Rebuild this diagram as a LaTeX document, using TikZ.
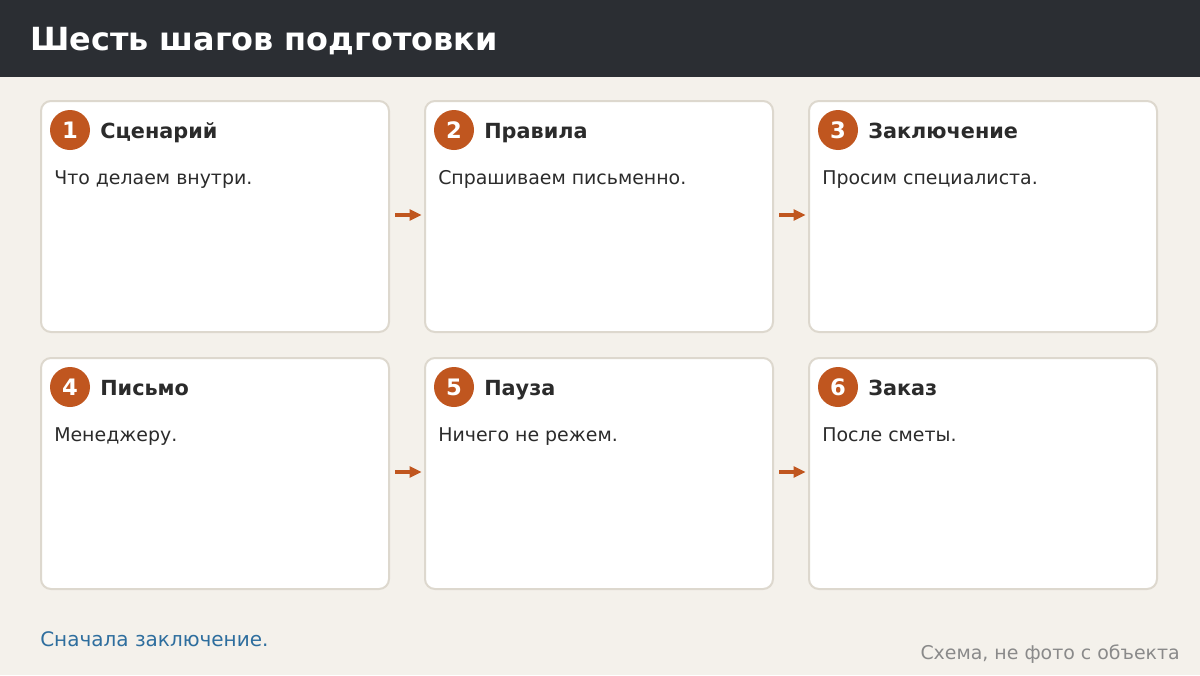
\documentclass[tikz,border=0pt]{standalone}
\usepackage{fontspec}
\setmainfont{DejaVu Sans}
\usetikzlibrary{arrows.meta}
\definecolor{bg}{HTML}{F4F1EB}
\definecolor{hdr}{HTML}{2B2E33}
\definecolor{cardborder}{HTML}{DDD8CE}
\definecolor{accent}{HTML}{C0561F}
\definecolor{ink}{HTML}{2B2B2B}
\definecolor{note}{HTML}{2E6E9E}
\definecolor{muted}{HTML}{8A8A8A}
\tikzset{
  card/.style={draw=cardborder, line width=1.5pt, fill=white, rounded corners=7.5pt},
  badge/.style={circle, fill=accent, minimum size=30pt, inner sep=0pt, text=white, font=\bfseries\fontsize{17pt}{18pt}\selectfont},
  ctitle/.style={anchor=base west, inner sep=0pt, text=ink, font=\bfseries\fontsize{15.6pt}{17pt}\selectfont},
  cbody/.style={anchor=base west, inner sep=0pt, text=ink, font=\fontsize{14.2pt}{16pt}\selectfont},
  flowarrow/.style={draw=accent, line width=2.3pt, -{Triangle[length=9pt,width=8pt]}},
}
\begin{document}
\begin{tikzpicture}[x=0.75pt,y=-0.75pt]
\fill[bg] (0,0) rectangle (1200,675);
\useasboundingbox (0,0) rectangle (1200,675);
\fill[hdr] (0,0) rectangle (1200,77);
\node[anchor=base west, inner sep=0pt, text=white, font=\bfseries\fontsize{23.9pt}{26pt}\selectfont] (title) at (30,50) {Шесть шагов подготовки};
% cards
\foreach \i/\x/\y/\t/\b in {1/41/101/Сценарий/Что делаем внутри.,2/425/101/Правила/Спрашиваем письменно.,3/809/101/Заключение/Просим специалиста.,4/41/358/Письмо/Менеджеру.,5/425/358/Пауза/Ничего не режем.,6/809/358/Заказ/После сметы.}{
  \draw[card] (\x,\y) rectangle ++(348,231);
  \coordinate (c\i w) at (\x,\y+114);
  \coordinate (c\i e) at (\x+348,\y+114);
  \node[badge] (n\i) at (\x+29,\y+29) {\i};
  \node[ctitle] (t\i) at (\x+59,\y+37) {\t};
  \node[cbody] (b\i) at (\x+13,\y+83) {\b};
}
\draw[flowarrow] ([xshift=4.5pt]c1e) -- ([xshift=-2.5pt]c2w);
\draw[flowarrow] ([xshift=4.5pt]c2e) -- ([xshift=-2.5pt]c3w);
\draw[flowarrow] ([xshift=4.5pt]c4e) -- ([xshift=-2.5pt]c5w);
\draw[flowarrow] ([xshift=4.5pt]c5e) -- ([xshift=-2.5pt]c6w);
\node[anchor=base west, inner sep=0pt, text=note, font=\fontsize{15pt}{17pt}\selectfont] (foot) at (40,646) {Сначала заключение.};
\node[anchor=base east, inner sep=0pt, text=muted, font=\fontsize{14.2pt}{16pt}\selectfont] (src) at (1180,659) {Схема, не фото с объекта};
\end{tikzpicture}
\end{document}
